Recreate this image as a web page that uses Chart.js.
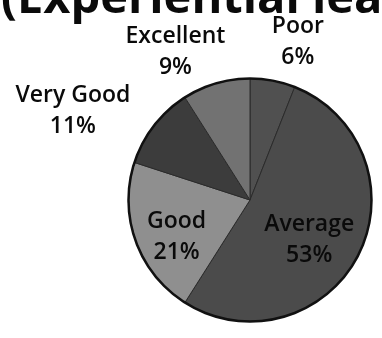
<!DOCTYPE html>
<html>
<head>
<meta charset="utf-8">
<script src="https://cdn.jsdelivr.net/npm/chart.js@4/dist/chart.umd.min.js"></script>
<style>
  html, body { margin: 0; padding: 0; background: #fff; }
  #wrap { width: 382px; height: 338px; position: relative; overflow: hidden; }
</style>
</head>
<body>
<div id="wrap"><canvas id="pie" width="382" height="338"></canvas></div>
<script>
// Feedback ratings, clockwise from 12 o'clock
var categorias = ["Poor", "Average", "Good", "Very Good", "Excellent"];
var porcentajes = [6, 53, 21, 11, 9];
var colores = ["#505050", "#4b4b4b", "#8f8f8f", "#3c3c3c", "#727272"];
var titulo = "(Experiential learning)";

// where each label sits: distance as a fraction of the radius, and angle nudge in degrees
var posEtiquetas = [
  { f: 1.31, da: 6.7 },
  { f: 0.62, da: 11.2 },
  { f: 0.70, da: -10.6 },
  { f: 1.61, da: -12.7 },
  { f: 1.32, da: -11.5 }
];

var etiquetasPlugin = {
  id: 'etiquetas',
  afterDatasetsDraw: function(chart) {
    var ctx = chart.ctx;
    var arcs = chart.getDatasetMeta(0).data;
    ctx.save();

    // dark outline round the whole pie
    var a0 = arcs[0];
    ctx.beginPath();
    ctx.arc(a0.x, a0.y, a0.outerRadius, 0, Math.PI * 2);
    ctx.lineWidth = 2.5;
    ctx.strokeStyle = '#111';
    ctx.stroke();

    ctx.fillStyle = '#0a0a0a';
    ctx.textAlign = 'center';
    ctx.textBaseline = 'alphabetic';
    ctx.font = '600 23px "Open Sans"';
    arcs.forEach(function(arc, i) {
      var p = posEtiquetas[i];
      var mid = (arc.startAngle + arc.endAngle) / 2 + p.da * Math.PI / 180;
      var cx = arc.x + Math.cos(mid) * arc.outerRadius * p.f;
      var cy = arc.y + Math.sin(mid) * arc.outerRadius * p.f;
      ctx.fillText(categorias[i], cx, cy - 15.5);
      ctx.fillText(porcentajes[i] + '%', cx, cy + 15.5);
    });

    // big title, only its lower part fits on the page
    ctx.textAlign = 'left';
    ctx.font = 'bold 47px "Open Sans"';
    ctx.fillText(titulo, 1, 13);
    ctx.restore();
  }
};

new Chart(document.getElementById("pie"), {
  type: 'pie',
  data: {
    labels: categorias,
    datasets: [{
      data: porcentajes,
      backgroundColor: colores,
      borderColor: '#2a2a2a',
      borderWidth: 1
    }]
  },
  options: {
    responsive: false,
    animation: false,
    layout: { padding: { left: 128, right: 10, top: 78, bottom: 16 } },
    plugins: {
      legend: { display: false },
      tooltip: { enabled: false },
      title: { display: false }
    }
  },
  plugins: [etiquetasPlugin]
});
</script>
</body>
</html>
